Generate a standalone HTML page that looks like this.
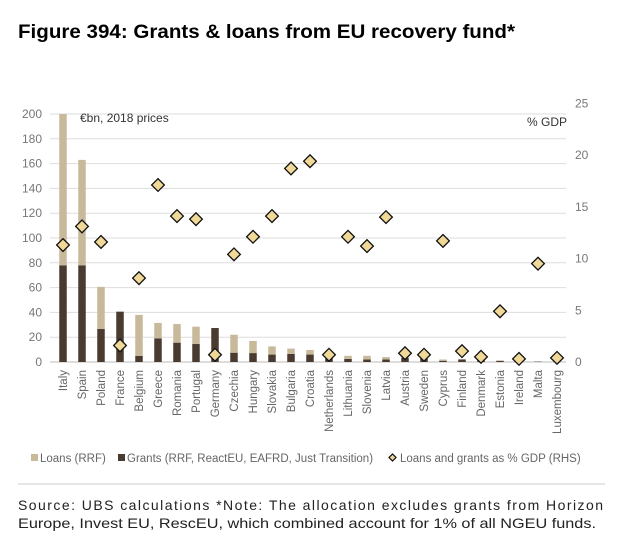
<!DOCTYPE html>
<html><head><meta charset="utf-8"><style>
body{margin:0;background:#fff;}
svg{display:block;font-family:"Liberation Sans",sans-serif;}
</style></head><body>
<svg id="chart" width="621" height="548" viewBox="0 0 621 548">
<text x="18" y="38" font-size="19" font-weight="bold" fill="#000" textLength="497" lengthAdjust="spacingAndGlyphs">Figure 394: Grants &amp; loans from EU recovery fund*</text>
<g id="grid"></g>
<g id="bars"></g>
<g id="dots"></g>
<g id="xlabels"></g>
<text x="80" y="122" font-size="12" fill="#333">€bn, 2018 prices</text>
<text x="527" y="126" font-size="12" fill="#333">% GDP</text>
<g font-size="11.5" fill="#666">
<rect x="31" y="454" width="7" height="7" fill="#c8b99a"/>
<text x="40" y="462">Loans (RRF)</text>
<rect x="118" y="454" width="7" height="7" fill="#4a3b30"/>
<text x="127" y="462">Grants (RRF, ReactEU, EAFRD, Just Transition)</text>
<rect x="390" y="455" width="5" height="5" fill="#f0d898" stroke="#111" stroke-width="1.2" transform="rotate(45 392.5 457.5)"/>
<text x="400" y="462">Loans and grants as % GDP (RHS)</text>
</g>
<line x1="18" y1="484" x2="605" y2="484" stroke="#ccc" stroke-width="1"/>
<text x="18" y="510" font-size="14" fill="#222" textLength="585" lengthAdjust="spacing">Source: UBS calculations *Note: The allocation excludes grants from Horizon</text>
<text x="18" y="528" font-size="14" fill="#222" textLength="578" lengthAdjust="spacingAndGlyphs">Europe, Invest EU, RescEU, which combined account for 1% of all NGEU funds.</text>
</svg>
<script>
const countries=["Italy","Spain","Poland","France","Belgium","Greece","Romania","Portugal","Germany","Czechia","Hungary","Slovakia","Bulgaria","Croatia","Netherlands","Lithuania","Slovenia","Latvia","Austria","Sweden","Cyprus","Finland","Denmark","Estonia","Ireland","Malta","Luxembourg"];
const grants=[78,78,26.6,40.6,5,19,15.6,14.5,27.4,7.5,7.2,6,6.5,6,4,2.5,2,2,3.5,3.3,1,2.1,1.6,1,1,0.3,0.1];
const loans=[122,85,34,0,33,12.5,15,14,0,14.5,9.8,6.6,4.3,3.7,0,2.5,3,2,0,0,1,0,0,0,0,0,0];
const gdpPct=[11.3,13.1,11.6,1.6,8.1,17.1,14.1,13.8,0.7,10.4,12.1,14.1,18.7,19.4,0.7,12.1,11.2,14.0,0.85,0.7,11.7,1.05,0.5,4.9,0.3,9.5,0.4];
const leftTicks=[0,20,40,60,80,100,120,140,160,180,200];
const rightTicks=[0,5,10,15,20,25];
const NS="http://www.w3.org/2000/svg";
const y0=362;
function yL(v){return y0-v*1.24;}
function yR(v){return y0-v*10.35;}
function xC(i){return 63+i*19;}
function mk(tag,attrs,parent){const e=document.createElementNS(NS,tag);for(const k in attrs)e.setAttribute(k,attrs[k]);parent.appendChild(e);return e;}
const grid=document.getElementById('grid');
leftTicks.forEach(t=>{
 const l=mk('line',{x1:50,x2:566,y1:yL(t),y2:yL(t),stroke:t===0?'#bbb':'#ddd','stroke-width':1},grid);
 
 
 const tx=mk('text',{x:42,y:yL(t)+4,'font-size':12,fill:'#777','text-anchor':'end'},grid);
 tx.textContent=t;
 
 
});
rightTicks.forEach(t=>{
 const tx=mk('text',{x:575,y:yR(t)+4,'font-size':12,fill:'#777'},grid);
 tx.textContent=t;
 
 
});
const bars=document.getElementById('bars'),dots=document.getElementById('dots'),xl=document.getElementById('xlabels');
countries.forEach((c,i)=>{
 const x=xC(i),w=7.5;
 const g=mk('rect',{x:x-w/2,y:yL(grants[i]),width:w,height:grants[i]*1.24,fill:'#4a3b30'},bars);
 
 
 const l=mk('rect',{x:x-w/2,y:yL(grants[i]+loans[i]),width:w,height:loans[i]*1.24,fill:'#c8b99a'},bars);
 
 
 const y=yR(gdpPct[i]);
 const d=mk('rect',{x:x-4.5,y:y-4.5,width:9,height:9,fill:'#f0d898',stroke:'#111','stroke-width':1.3,transform:`rotate(45 ${x} ${y})`},dots);
 
 
 const t=mk('text',{x:0,y:0,'font-size':11.5,fill:'#666','text-anchor':'end',transform:`translate(${x+4} 370) rotate(-90)`},xl);
 t.textContent=c;
 
 
});
</script>
</body></html>
